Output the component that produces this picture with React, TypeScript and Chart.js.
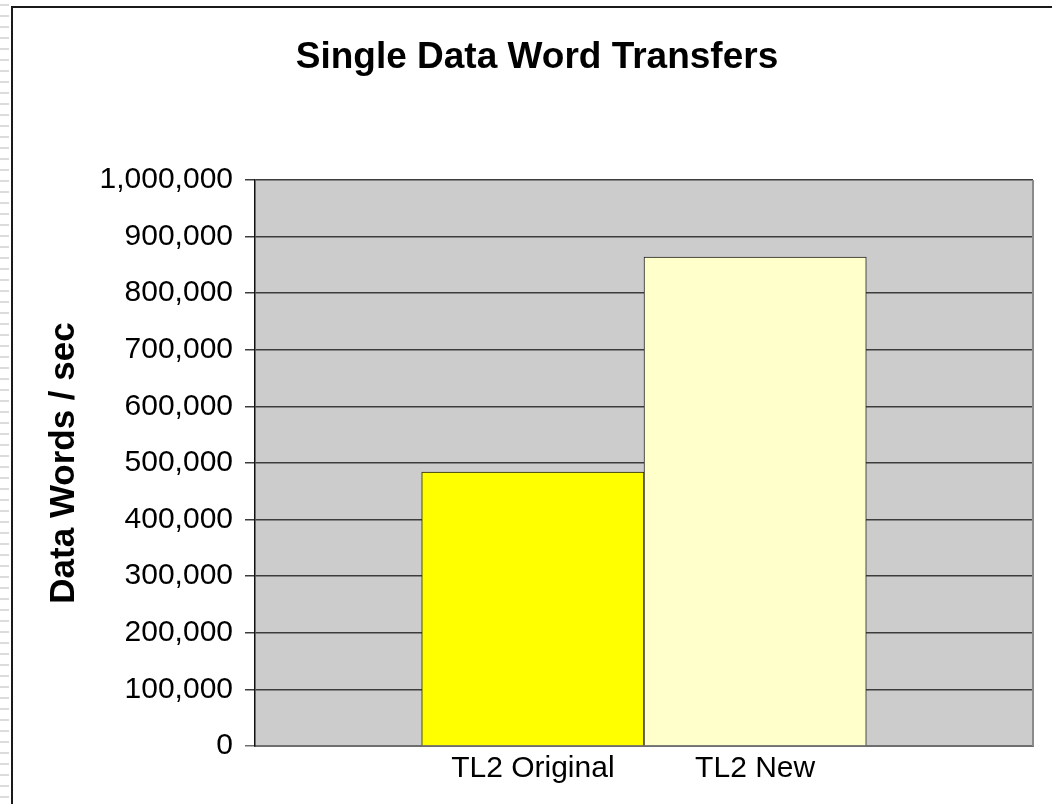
import React, { useEffect, useRef } from 'react';
import { Chart, registerables } from 'chart.js';

Chart.register(...registerables);

const TITLE = 'Single Data Word Transfers';
const Y_TITLE = 'Data Words / sec';
const categories = ['TL2 Original', 'TL2 New'];
const values = [484000, 864000];
const barColors = ['#FFFF00', '#FFFFCC'];
const yTicksMin = 0;
const yTicksMax = 1000000;
const yTickStep = 100000;
const xRangeMin = -1.25;
const xRangeMax = 2.25;

const BASE_FONT = '"Liberation Sans", Arial, sans-serif';

function pickTickFont(): { family: string; size: number } {
  try {
    const ctx = document.createElement('canvas').getContext('2d');
    if (ctx) {
      const probe = 'TL2 Original 1,000,000';
      ctx.font = '36px monospace';
      const m = ctx.measureText(probe).width;
      ctx.font = '36px "Liberation Sans Narrow", monospace';
      const n = ctx.measureText(probe).width;
      if (Math.abs(m - n) > 0.5) {
        return { family: '"Liberation Sans Narrow", "Arial Narrow", sans-serif', size: 36 };
      }
    }
  } catch (e) {
    /* ignore */
  }
  return { family: BASE_FONT, size: 30 };
}

const decorPlugin = {
  id: 'decor',
  beforeDraw(chart: any) {
    const { ctx, chartArea } = chart;
    ctx.save();
    ctx.fillStyle = '#ffffff';
    ctx.fillRect(0, 0, chart.width, chart.height);
    // left striped margin
    ctx.fillStyle = '#dcdcdc';
    for (let y = 4; y < chart.height; y += 11) {
      ctx.fillRect(0, y, 9, 2);
    }
    // outer frame
    ctx.strokeStyle = '#1a1a1a';
    ctx.lineWidth = 2;
    ctx.strokeRect(12, 7, chart.width + 20, chart.height + 20);
    // plot background
    ctx.fillStyle = '#CCCCCC';
    ctx.fillRect(chartArea.left, chartArea.top, chartArea.right - chartArea.left, chartArea.bottom - chartArea.top);
    ctx.restore();
  },
  afterDraw(chart: any) {
    const { ctx, chartArea } = chart;
    ctx.save();
    ctx.strokeStyle = '#8a8a8a';
    ctx.lineWidth = 2;
    ctx.beginPath();
    ctx.moveTo(chartArea.right, chartArea.top);
    ctx.lineTo(chartArea.right, chartArea.bottom);
    ctx.stroke();
    ctx.restore();
  },
};

export default function App() {
  const ref = useRef<HTMLCanvasElement | null>(null);

  useEffect(() => {
    if (!ref.current) return;
    const tickFont = pickTickFont();
    const chart = new Chart(ref.current, {
      type: 'bar',
      data: {
        datasets: [
          {
            data: values.map((v, i) => ({ x: i, y: v })),
            backgroundColor: barColors,
            borderColor: '#1e1e1e',
            borderWidth: 1,
            barPercentage: 1,
            categoryPercentage: 1,
          },
        ],
      },
      options: {
        animation: false,
        responsive: false,
        devicePixelRatio: 1,
        layout: { padding: { left: 41, right: 19, top: 0, bottom: 0 } },
        plugins: {
          legend: { display: false },
          tooltip: { enabled: false },
          title: {
            display: true,
            text: TITLE,
            color: '#000',
            font: { family: BASE_FONT, size: 37, weight: 'bold', lineHeight: 1.2 },
            padding: { top: 35.3, bottom: 100.3 },
          },
        },
        scales: {
          x: {
            type: 'linear',
            min: xRangeMin,
            max: xRangeMax,
            offset: false,
            afterBuildTicks: (s: any) => {
              s.ticks = categories.map((_, i) => ({ value: i }));
            },
            afterFit: (s: any) => {
              s.height = 58;
            },
            ticks: {
              autoSkip: false,
              maxRotation: 0,
              padding: -3,
              color: '#000',
              font: { family: tickFont.family, size: tickFont.size, lineHeight: 1.2 },
              callback: (v: any) => categories[Number(v)] ?? '',
            },
            grid: { display: false },
            border: { display: true, color: '#6e6e6e', width: 2 },
          },
          y: {
            min: yTicksMin,
            max: yTicksMax,
            afterFit: (s: any) => {
              s.width = 214;
            },
            ticks: {
              stepSize: yTickStep,
              padding: 12,
              color: '#000',
              font: { family: tickFont.family, size: tickFont.size, lineHeight: 1.2 },
              callback: (v: any) => Number(v).toLocaleString('en-US'),
            },
            grid: {
              color: (c: any) => (c.tick && c.tick.value === 0 ? '#6e6e6e' : '#3c3c3c'),
              tickColor: (c: any) => (c.tick && c.tick.value === 0 ? '#6e6e6e' : '#3c3c3c'),
              lineWidth: 1.5,
              tickLength: 10,
              drawTicks: true,
            },
            border: { display: true, color: '#111', width: 1.5 },
            title: {
              display: true,
              text: Y_TITLE,
              color: '#000',
              font: { family: BASE_FONT, size: 35, weight: 'bold', lineHeight: 1.2 },
              padding: { top: 2, bottom: 0 },
            },
          },
        },
      },
      plugins: [decorPlugin],
    } as any);
    return () => chart.destroy();
  }, []);

  return (
    <div style={{ position: 'absolute', left: 0, top: 0, width: 1052, height: 804, background: '#fff' }}>
      <canvas ref={ref} width={1052} height={804} style={{ display: 'block', width: 1052, height: 804 }} />
    </div>
  );
}
